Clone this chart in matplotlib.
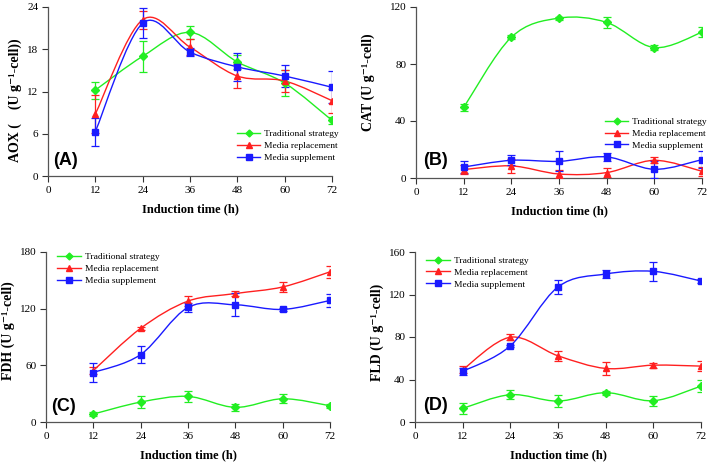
import matplotlib
matplotlib.use("Agg")
import matplotlib.pyplot as plt
import numpy as np
from matplotlib.path import Path
from matplotlib.patches import PathPatch
from matplotlib.lines import Line2D

plt.rcParams['font.family'] = ['Liberation Serif', 'DejaVu Serif']

hours = [12, 24, 36, 48, 60, 72]
series_names = ["Traditional strategy", "Media replacement", "Media supplement"]

# AOX
aox_trad = [12.2, 17.0, 20.4, 16.2, 13.2, 7.9]
aox_trad_err = [1.2, 2.2, 0.9, 1.0, 1.8, 0.5]
aox_repl = [8.8, 22.2, 18.3, 14.2, 13.5, 10.7]
aox_repl_err = [2.7, 1.3, 1.1, 1.7, 1.5, 1.7]
aox_supp = [6.3, 21.7, 17.6, 15.5, 14.2, 12.6]
aox_supp_err = [2.0, 2.1, 0.6, 2.0, 1.6, 2.3]

# CAT
cat_trad = [49.5, 98.8, 112.2, 109.2, 91.5, 102.3]
cat_trad_err = [2.5, 1.5, 1.0, 4.0, 2.0, 3.5]
cat_repl = [5.9, 8.5, 2.8, 3.8, 12.4, 4.7]
cat_repl_err = [3.0, 5.0, 3.0, 3.0, 2.0, 3.0]
cat_supp = [7.7, 12.4, 11.7, 14.8, 6.1, 12.9]
cat_supp_err = [4.0, 3.5, 7.0, 3.0, 6.0, 6.0]

# FDH
fdh_trad = [8.4, 21.1, 27.1, 15.5, 24.6, 17.2]
fdh_trad_err = [2.0, 6.0, 6.0, 4.0, 5.0, 2.0]
fdh_repl = [54.5, 99.2, 128.0, 136.0, 143.0, 159.0]
fdh_repl_err = [4.0, 1.5, 5.0, 3.0, 5.0, 6.0]
fdh_supp = [52.4, 71.4, 121.3, 124.1, 119.2, 128.7]
fdh_supp_err = [10.0, 9.0, 5.0, 12.0, 2.0, 7.0]

# FLD
fld_trad = [12.8, 25.7, 19.7, 27.6, 20.0, 33.8]
fld_trad_err = [5.0, 4.5, 5.5, 2.0, 4.5, 5.5]
fld_repl = [49.2, 79.8, 62.3, 50.4, 53.5, 52.6]
fld_repl_err = [3.5, 3.0, 4.5, 6.5, 2.5, 4.5]
fld_supp = [47.6, 71.7, 127.1, 139.3, 141.8, 132.7]
fld_supp_err = [3.0, 1.0, 7.0, 4.0, 9.0, 2.0]

colors = ["#22ee22", "#ff2020", "#1a1aff"]
markers = ["D", "^", "s"]
msizes = [4, 5, 5]


def smooth_path(x, y):
    # Excel style smoothed line drawn as cubic Bezier segments
    pts = np.column_stack([x, y]).astype(float)
    n = len(pts)
    verts = [pts[0]]
    codes = [Path.MOVETO]
    for i in range(n - 1):
        p0 = pts[i - 1] if i > 0 else pts[i]
        p3 = pts[i + 2] if i + 2 < n else pts[i + 1]
        c1 = pts[i] + (pts[i + 1] - p0) / 6.0
        c2 = pts[i + 1] - (p3 - pts[i]) / 6.0
        verts += [c1, c2, pts[i + 1]]
        codes += [Path.CURVE4] * 3
    return Path(verts, codes)


def panel(ax, data, ymax, ystep, ylabel, ylab_pos, tag, leg_anchor, tag_pos):
    for k, (vals, errs) in enumerate(data):
        ax.add_patch(PathPatch(smooth_path(hours, vals), fill=False,
                               edgecolor=colors[k], lw=1.0, zorder=2))
        ax.errorbar(hours, vals, yerr=errs, fmt=markers[k], color=colors[k],
                    ms=msizes[k], elinewidth=0.9, capsize=3, capthick=0.9,
                    zorder=3)
    ax.set_xlim(0, 72)
    ax.set_ylim(0, ymax)
    ax.set_xticks(np.arange(0, 73, 12))
    ax.set_yticks(np.arange(0, ymax + 0.1, ystep))
    for s in ["top", "right"]:
        ax.spines[s].set_visible(False)
    for s in ["left", "bottom"]:
        ax.spines[s].set_color("#555555")
        ax.spines[s].set_linewidth(0.9)
    ax.tick_params(direction="out", length=4, width=0.8, labelsize=8,
                   colors="#333333", labelcolor="black", pad=3)
    ax.set_xlabel("Induction time (h)", fontsize=9, fontweight="bold", labelpad=6)
    ax.set_ylabel(ylabel, fontsize=10, fontweight="bold")
    ax.yaxis.set_label_coords(*ylab_pos)
    ax.text(tag_pos[0], tag_pos[1], tag, transform=ax.transAxes,
            fontsize=13, fontweight="bold", family="Liberation Sans",
            ha="left", va="bottom")
    handles = [Line2D([], [], color=colors[k], marker=markers[k],
                      ms=msizes[k] - 0.5, lw=1.0) for k in range(3)]
    ax.legend(handles, series_names, loc="upper left", bbox_to_anchor=leg_anchor,
              frameon=False, fontsize=6.8, handlelength=2.5, handletextpad=0.4,
              labelspacing=0.35, borderpad=0, borderaxespad=0)


fig = plt.figure(figsize=(7.09, 4.63), dpi=100)
axA = fig.add_axes([48 / 709, 287 / 463, 284 / 709, 169 / 463])
axB = fig.add_axes([416 / 709, 285 / 463, 286 / 709, 171 / 463])
axC = fig.add_axes([46 / 709, 41 / 463, 284 / 709, 170 / 463])
axD = fig.add_axes([415 / 709, 41 / 463, 286 / 709, 170 / 463])

panel(axA, [(aox_trad, aox_trad_err), (aox_repl, aox_repl_err), (aox_supp, aox_supp_err)],
      24, 6, "AOX (    (U g\u207b\u00b9-cell))", (-0.092, 0.45), "(A)",
      (0.665, 0.275), (0.018, 0.04))
panel(axB, [(cat_trad, cat_trad_err), (cat_repl, cat_repl_err), (cat_supp, cat_supp_err)],
      120, 40, "CAT (U g\u207b\u00b9-cell)", (-0.143, 0.56), "(B)",
      (0.66, 0.355), (0.024, 0.05))
panel(axC, [(fdh_trad, fdh_trad_err), (fdh_repl, fdh_repl_err), (fdh_supp, fdh_supp_err)],
      180, 60, "FDH (U g\u207b\u00b9-cell)", (-0.109, 0.535), "(C)",
      (0.04, 0.995), (0.018, 0.04))
panel(axD, [(fld_trad, fld_trad_err), (fld_repl, fld_repl_err), (fld_supp, fld_supp_err)],
      160, 40, "FLD (U g\u207b\u00b9-cell)", (-0.108, 0.53), "(D)",
      (0.04, 0.975), (0.03, 0.045))

fig.savefig("out.png", dpi=100)
